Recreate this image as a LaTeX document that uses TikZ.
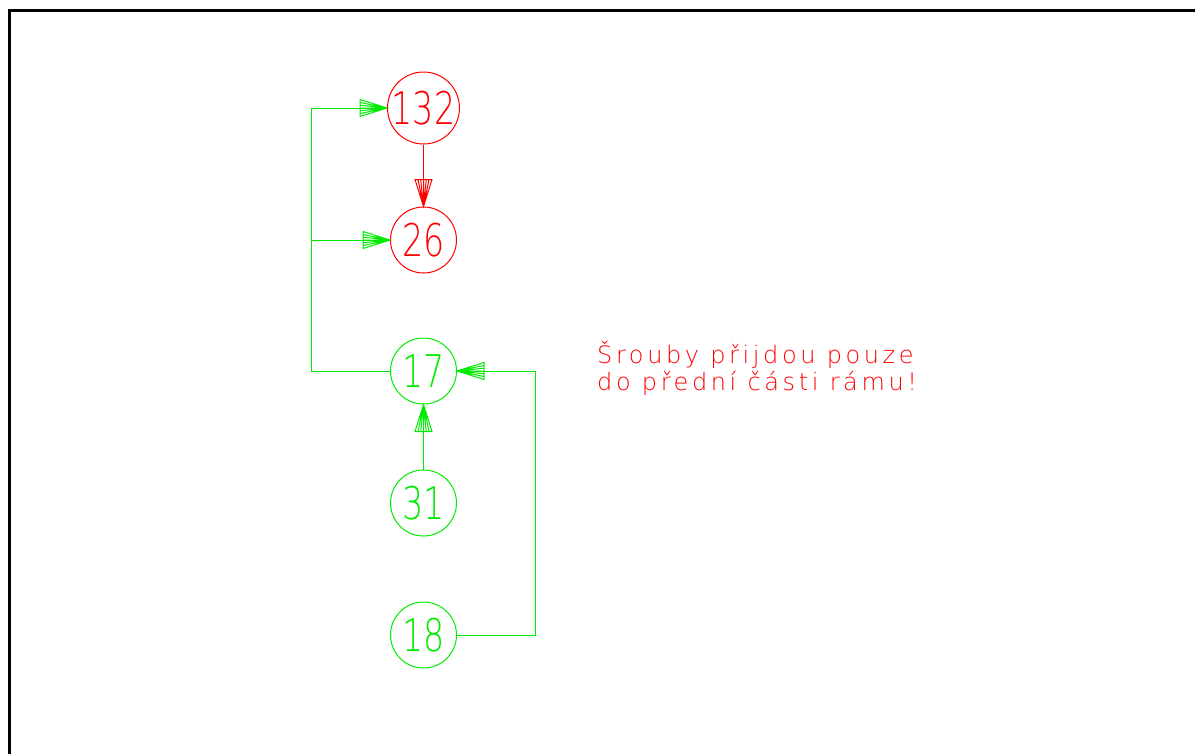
\documentclass[tikz,border=0pt]{standalone}
\usepackage{fontspec}
\usepackage{graphicx}
\newfontfamily\numfont{DejaVu Sans}[UprightFont={* ExtraLight}]
\newfontfamily\notefont{DejaVu Sans}[UprightFont={* ExtraLight}, LetterSpace=15]
\definecolor{cadred}{RGB}{255,0,0}
\definecolor{cadgreen}{RGB}{0,235,0}
\pgfdeclarearrow{
  name=Hatch,
  setup code={
    \pgfarrowssettipend{0pt}
    \pgfarrowssetbackend{-27pt}
    \pgfarrowssetlineend{0pt}
    \pgfarrowssetvisualbackend{-27pt}
    \pgfarrowsupperhullpoint{0pt}{0pt}
    \pgfarrowsupperhullpoint{-27pt}{8.5pt}
  },
  drawing code={
    \pgfsetdash{}{0pt}
    \pgfpathmoveto{\pgfpoint{0pt}{0pt}}
    \pgfpathlineto{\pgfpoint{-27pt}{8.5pt}}
    \pgfpathlineto{\pgfpoint{-27pt}{-8.5pt}}
    \pgfpathclose
    \pgfpathmoveto{\pgfpoint{0pt}{0pt}}\pgfpathlineto{\pgfpoint{-27pt}{5.5pt}}
    \pgfpathmoveto{\pgfpoint{0pt}{0pt}}\pgfpathlineto{\pgfpoint{-27pt}{2.8pt}}
    \pgfpathmoveto{\pgfpoint{0pt}{0pt}}\pgfpathlineto{\pgfpoint{-27pt}{0pt}}
    \pgfpathmoveto{\pgfpoint{0pt}{0pt}}\pgfpathlineto{\pgfpoint{-27pt}{-2.8pt}}
    \pgfpathmoveto{\pgfpoint{0pt}{0pt}}\pgfpathlineto{\pgfpoint{-27pt}{-5.5pt}}
    \pgfusepathqstroke
  },
  parameters={},
}
\newcommand\numtxt[1]{\scalebox{0.74}[1]{#1}}
\tikzset{
  num/.style={circle, draw, line width=1pt, minimum size=66pt, inner sep=0pt,
    font=\fontsize{45}{45}\selectfont\numfont},
  rednum/.style={num, draw=cadred, text=cadred},
  grnnum/.style={num, draw=cadgreen, text=cadgreen},
  gline/.style={draw=cadgreen, line width=1pt},
  rline/.style={draw=cadred, line width=1pt},
  note/.style={anchor=base west, inner sep=0pt, text=cadred,
    font=\fontsize{24}{24}\selectfont\notefont},
}
\begin{document}
\begin{tikzpicture}[x=1pt,y=-1pt]
\useasboundingbox (0,0) rectangle (1195,753);
\draw[line width=3pt, line cap=rect] (9,753) -- (9,10) -- (1195,10);

\node[rednum] (n132) at (423.5,108) {\numtxt{132}};
\node[rednum] (n26)  at (423.5,240) {\numtxt{26}};
\node[grnnum] (n17)  at (423.5,371) {\numtxt{17}};
\node[grnnum] (n31)  at (423.5,503) {\numtxt{31}};
\node[grnnum] (n18)  at (423.5,635) {\numtxt{18}};

\coordinate (jL) at (311,371);
\coordinate (jR) at (535,635);

\draw[rline,-Hatch] (n132.south) -- (n26.north);
\draw[gline,-Hatch] (n17.west) -- (jL) |- (n132.west);
\draw[gline,-Hatch] (jL |- n26.west) -- (n26.west);
\draw[gline,-Hatch] (n31.north) -- (n17.south);
\draw[gline,-Hatch] (n18.east) -- (jR) |- (n17.east);

\node[note] (l1) at (597,363) {Šrouby přijdou pouze};
\node[note] (l2) at (597,390) {do přední části rámu!};
\end{tikzpicture}
\end{document}
